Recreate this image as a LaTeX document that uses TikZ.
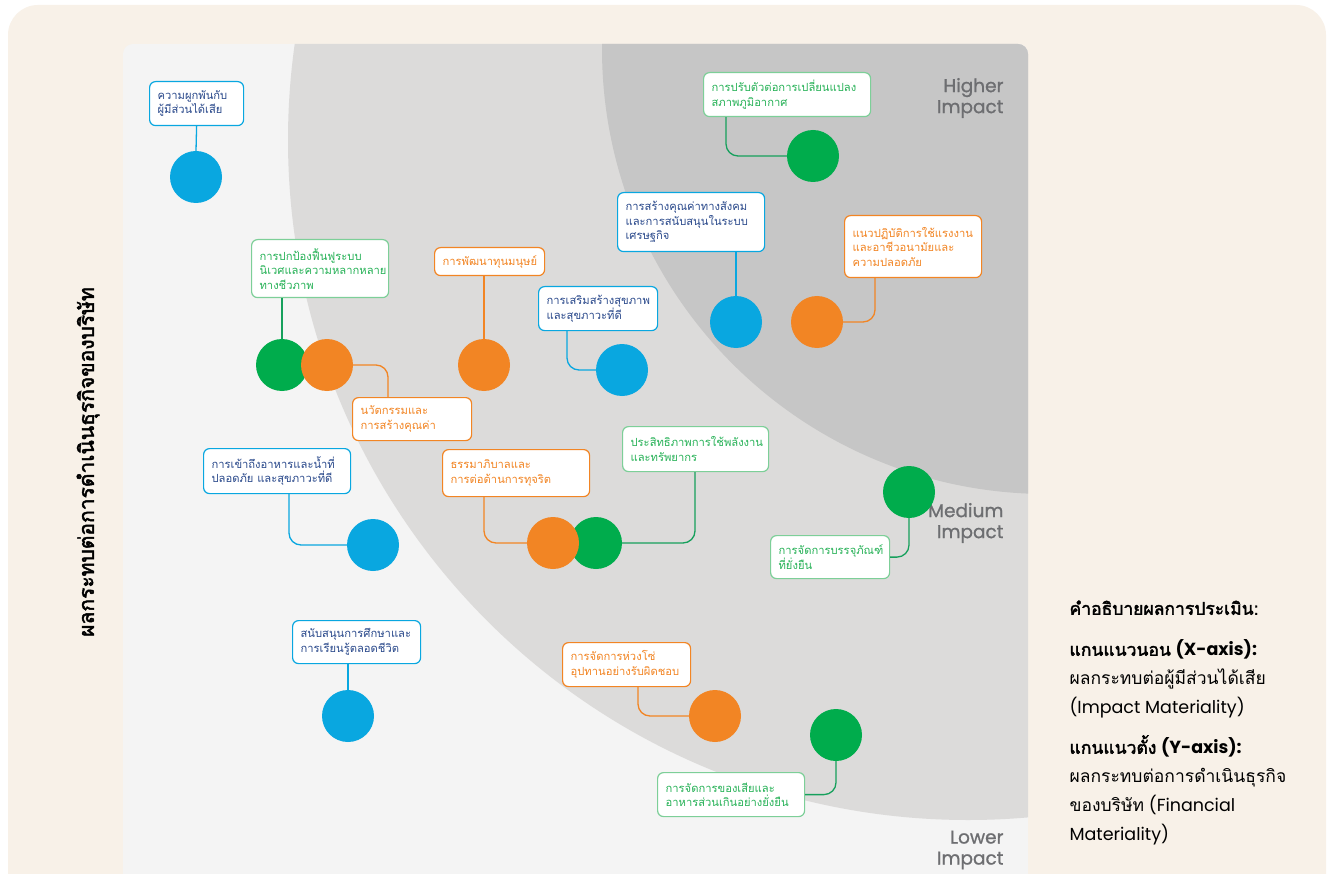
\documentclass[tikz,border=0pt]{standalone}
\usepackage{fontspec}
\setmainfont{Poppins}
\newfontfamily\thaifont[Script=Thai]{Loma}
\newfontfamily\thaibold[Script=Thai, FakeBold=2.2]{Loma}
\newfontfamily\labelfont[FakeBold=1]{Poppins}
\usepackage{tikz}
\usetikzlibrary{positioning}
\definecolor{mycream}{RGB}{248,241,232}
\definecolor{mypanel}{RGB}{244,244,244}
\definecolor{mymid}{RGB}{220,219,218}
\definecolor{mydeep}{RGB}{198,198,198}
\definecolor{mylabel}{RGB}{109,110,113}
\definecolor{myblue}{RGB}{9,167,224}
\definecolor{mygreen}{RGB}{0,172,76}
\definecolor{myorange}{RGB}{242,133,36}
\definecolor{mynavy}{RGB}{43,74,140}
\definecolor{myleaf}{RGB}{125,207,152}
\definecolor{myleaftext}{RGB}{40,178,88}
\definecolor{mystem}{RGB}{22,160,92}
\tikzset{
  tag/.style={rectangle, rounded corners=6pt, line width=1.2pt, fill=white,
    anchor=north west, align=left, inner xsep=8pt, inner ysep=3pt,
    font=\thaifont\fontsize{11.2}{14.5}\selectfont},
  bluetag/.style={tag, draw=myblue, text=mynavy},
  greentag/.style={tag, draw=myleaf, text=myleaftext},
  orangetag/.style={tag, draw=myorange, text=myorange},
  dot/.style={circle, inner sep=0pt, minimum size=52pt},
  bluedot/.style={dot, fill=myblue},
  greendot/.style={dot, fill=mygreen},
  orangedot/.style={dot, fill=myorange},
  link/.style={line width=1.3pt, rounded corners=12pt},
  bluelink/.style={link, draw=myblue},
  greenlink/.style={link, draw=mystem},
  orangelink/.style={link, draw=myorange},
  impact/.style={align=right, anchor=east, text=mylabel,
    font=\labelfont\fontsize{18.5}{21}\selectfont}
}
\begin{document}
\begin{tikzpicture}[x=1pt, y=-1pt]
  \useasboundingbox (0,0) rectangle (1332,874);
  \clip (0,0) rectangle (1332,874);
  \fill[white] (0,0) rectangle (1332,874);
  \fill[mycream, rounded corners=30pt] (8,5) rectangle (1326,920);

  \begin{scope}
    \clip[rounded corners=10pt] (123,44) rectangle (1028,900);
    \fill[mypanel] (123,44) rectangle (1028,900);
    \fill[mymid] (968,140) circle (680pt);
    \fill[mydeep] (1047,49) circle (445pt);
  \end{scope}

  \node[impact] (high) at (1007,98) {Higher\\Impact};
  \node[impact] (medium) at (1007,523) {Medium\\Impact};
  \node[impact] (low) at (1007,850) {Lower\\Impact};

  \node[rotate=90, font=\thaibold\fontsize{21}{24}\selectfont] (yaxis) at (88,462)
    {ผลกระทบต่อการดำเนินธุรกิจของบริษัท};

  \node[anchor=north west, align=left, font=\fontsize{17.5}{29}\selectfont] (legend) at (1066,597) {%
    {\thaibold คำอธิบายผลการประเมิน:}\\[12pt]
    {\thaibold แกนแนวนอน} {\bfseries (X-axis):}\\
    {\thaifont ผลกระทบต่อผู้มีส่วนได้เสีย}\\
    (Impact Materiality)\\[11pt]
    {\thaibold แกนแนวตั้ง} {\bfseries (Y-axis):}\\
    {\thaifont ผลกระทบต่อการดำเนินธุรกิจ}\\
    {\thaifont ของบริษัท} (Financial\\
    Materiality)};

  \node[bluetag, text width=78pt, minimum height=44pt] (stake-t) at (149,81) {ความผูกพันกับ\\ผู้มีส่วนได้เสีย};
  \node[greentag, text width=151pt, minimum height=44pt] (climate-t) at (703,72) {การปรับตัวต่อการเปลี่ยนแปลง\\สภาพภูมิอากาศ};
  \node[bluetag, text width=131pt, minimum height=59pt] (social-t) at (617,192) {การสร้างคุณค่าทางสังคม\\และการสนับสนุนในระบบ\\เศรษฐกิจ};
  \node[orangetag, text width=121pt, minimum height=62pt] (labour-t) at (844,215) {แนวปฏิบัติการใช้แรงงาน\\และอาชีวอนามัยและ\\ความปลอดภัย};
  \node[greentag, text width=121pt, minimum height=58pt] (eco-t) at (251,239) {การปกป้องฟื้นฟูระบบ\\นิเวศและความหลากหลาย\\ทางชีวภาพ};
  \node[orangetag, text width=103pt, minimum height=43pt] (innov-t) at (352,397) {นวัตกรรมและ\\การสร้างคุณค่า};
  \node[orangetag, text width=94pt, minimum height=28pt] (human-t) at (434,247) {การพัฒนาทุนมนุษย์};
  \node[bluetag, text width=103pt, minimum height=44pt] (health-t) at (538,286) {การเสริมสร้างสุขภาพ\\และสุขภาวะที่ดี};
  \node[bluetag, text width=131pt, minimum height=45pt] (food-t) at (203,448) {การเข้าถึงอาหารและน้ำที่\\ปลอดภัย และสุขภาวะที่ดี};
  \node[orangetag, text width=131pt, minimum height=47pt] (gov-t) at (442,449) {ธรรมาภิบาลและ\\การต่อต้านการทุจริต};
  \node[greentag, text width=130pt, minimum height=45pt] (energy-t) at (622,426) {ประสิทธิภาพการใช้พลังงาน\\และทรัพยากร};
  \node[greentag, text width=103pt, minimum height=43pt] (pack-t) at (770,535) {การจัดการบรรจุภัณฑ์\\ที่ยั่งยืน};
  \node[bluetag, text width=112pt, minimum height=43pt] (edu-t) at (292,620) {สนับสนุนการศึกษาและ\\การเรียนรู้ตลอดชีวิต};
  \node[orangetag, text width=112pt, minimum height=44pt] (supply-t) at (562,642) {การจัดการห่วงโซ่\\อุปทานอย่างรับผิดชอบ};
  \node[greentag, text width=131pt, minimum height=44pt] (waste-t) at (657,772) {การจัดการของเสียและ\\อาหารส่วนเกินอย่างยั่งยืน};

  \node[bluedot] (stake) at (196,177) {};
  \node[greendot] (climate) at (813,156) {};
  \node[bluedot] (social) at (736,322) {};
  \node[orangedot] (labour) at (817,322) {};
  \node[greendot] (eco) at (282,365) {};
  \node[orangedot] (innov) at (327,365) {};
  \node[orangedot] (human) at (484,365) {};
  \node[bluedot] (health) at (622,370) {};
  \node[bluedot] (food) at (373,545) {};
  \node[greendot] (energy) at (596,543) {};
  \node[orangedot] (gov) at (553,543) {};
  \node[greendot] (pack) at (909,492) {};
  \node[bluedot] (edu) at (348,716) {};
  \node[orangedot] (supply) at (715,716) {};
  \node[greendot] (waste) at (836,735) {};

  \draw[bluelink] (stake-t.south) -- (stake.north);
  \draw[greenlink] ([xshift=23pt]climate-t.south west) |- (climate.west);
  \draw[bluelink] (social.north |- social-t.south) -- (social.north);
  \draw[orangelink] ([xshift=31pt]labour-t.south west) |- (labour.east);
  \draw[greenlink] (eco.north |- eco-t.south) -- (eco.north);
  \draw[orangelink] (innov.east) -| ([xshift=36pt]innov-t.north west);
  \draw[orangelink] (human.north |- human-t.south) -- (human.north);
  \draw[bluelink] ([xshift=29pt]health-t.south west) |- (health.west);
  \draw[bluelink] ([xshift=86pt]food-t.south west) |- (food.west);
  \draw[orangelink] ([xshift=42pt]gov-t.south west) |- (gov.west);
  \draw[greenlink] (energy.east) -| ([xshift=73pt]energy-t.south west);
  \draw[greenlink] (pack.south) |- (pack-t.east);
  \draw[bluelink] (edu.north |- edu-t.south) -- (edu.north);
  \draw[orangelink] ([xshift=76pt]supply-t.south west) |- (supply.west);
  \draw[greenlink] (waste.south) |- (waste-t.east);
\end{tikzpicture}
\end{document}
